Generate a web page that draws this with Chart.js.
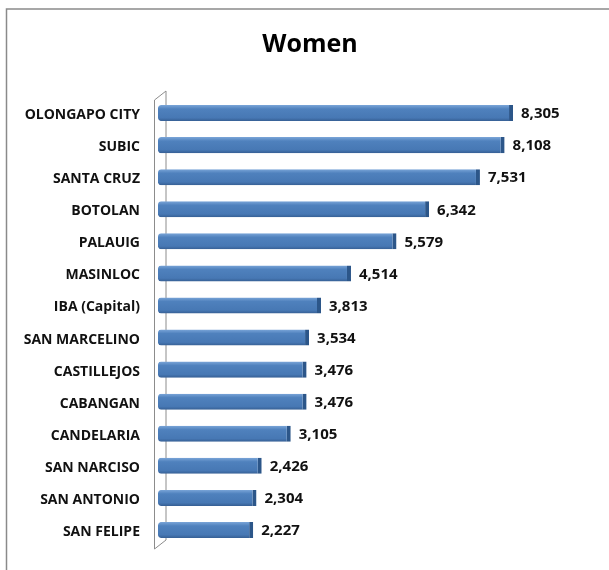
<!DOCTYPE html>
<html>
<head>
<meta charset="utf-8">
<script src="https://cdn.jsdelivr.net/npm/chart.js@4.4.1/dist/chart.umd.min.js"></script>
<style>
  html, body { margin: 0; padding: 0; background: #fff; }
  #wrap { width: 609px; height: 570px; }
</style>
</head>
<body>
<div id="wrap"><canvas id="graficoBarras"></canvas></div>
<script>
// Datos del gráfico
const titulo = 'Women';
const municipios = [
    'OLONGAPO CITY', 'SUBIC', 'SANTA CRUZ', 'BOTOLAN', 'PALAUIG', 'MASINLOC',
    'IBA (Capital)', 'SAN MARCELINO', 'CASTILLEJOS', 'CABANGAN', 'CANDELARIA',
    'SAN NARCISO', 'SAN ANTONIO', 'SAN FELIPE'
];
const mujeres = [8305, 8108, 7531, 6342, 5579, 4514, 3813, 3534, 3476, 3476, 3105, 2426, 2304, 2227];

const fuente = "'Open Sans', 'DejaVu Sans', sans-serif";

// Marco gris (arriba e izquierda), título y pared 3D del eje
const marcoYPared = {
    id: 'marcoYPared',
    beforeDatasetsDraw(chart) {
        const ctx = chart.ctx;
        const area = chart.chartArea;
        ctx.save();
        ctx.strokeStyle = '#8a8a8a';
        ctx.lineWidth = 1.5;
        ctx.beginPath();
        ctx.moveTo(6.5, chart.height);
        ctx.lineTo(6.5, 9);
        ctx.lineTo(chart.width, 9);
        ctx.stroke();

        // título
        ctx.font = 'bold 25px ' + fuente;
        ctx.fillStyle = '#000';
        ctx.textAlign = 'center';
        ctx.textBaseline = 'middle';
        ctx.fillText(titulo, 310, 45);

        // pared del eje
        const x0 = area.left - 4, x1 = area.left + 7.5;
        const top = area.top, bot = area.bottom;
        ctx.strokeStyle = '#8c8c8c';
        ctx.lineWidth = 1;
        ctx.beginPath();
        ctx.moveTo(x0 + 0.5, top + 3);
        ctx.lineTo(x0 + 0.5, bot + 3);
        ctx.lineTo(x1 + 0.5, bot - 6);
        ctx.moveTo(x0 + 0.5, top + 3);
        ctx.lineTo(x1 + 0.5, top - 6);
        ctx.lineTo(x1 + 0.5, bot - 6);
        ctx.stroke();
        ctx.restore();
    }
};

// Etiquetas de valores al final de cada barra
const etiquetasValor = {
    id: 'etiquetasValor',
    afterDatasetsDraw(chart) {
        const ctx = chart.ctx;
        const meta = chart.getDatasetMeta(0);
        ctx.save();
        ctx.font = 'bold 15px ' + fuente;
        ctx.fillStyle = '#111';
        ctx.textBaseline = 'middle';
        ctx.textAlign = 'left';
        meta.data.forEach((bar, i) => {
            ctx.fillText(mujeres[i].toLocaleString('en-US'), bar.x + 8, bar.y + 1);
        });
        ctx.restore();
    }
};

function colorBarra(context) {
    const chart = context.chart;
    const y = chart.scales && chart.scales.y;
    if (!y || !chart.chartArea || context.dataIndex === undefined) return '#4F81BD';
    const cy = y.getPixelForValue(context.dataIndex);
    if (!isFinite(cy)) return '#4F81BD';
    const g = chart.ctx.createLinearGradient(0, cy - 8, 0, cy + 8);
    g.addColorStop(0, '#7aa5d8');
    g.addColorStop(0.25, '#4f81bd');
    g.addColorStop(0.8, '#4778b4');
    g.addColorStop(1, '#365f94');
    return g;
}

document.addEventListener('DOMContentLoaded', () => {
    const ctx = document.getElementById('graficoBarras').getContext('2d');
    new Chart(ctx, {
        type: 'bar',
        data: {
            labels: municipios,
            datasets: [{
                data: mujeres,
                backgroundColor: colorBarra,
                borderColor: '#2c5689',
                borderWidth: { top: 0, right: 4, bottom: 0, left: 0 },
                borderRadius: { topLeft: 3, bottomLeft: 3 },
                borderSkipped: false,
                barPercentage: 0.5,
                categoryPercentage: 1.0
            }]
        },
        options: {
            indexAxis: 'y',
            responsive: true,
            maintainAspectRatio: false,
            animation: false,
            layout: { padding: { top: 97, right: 23.5, bottom: 24, left: 0 } },
            plugins: {
                legend: { display: false },
                tooltip: { enabled: false },
                title: { display: false }
            },
            scales: {
                x: {
                    display: false,
                    min: 0,
                    max: 10000
                },
                y: {
                    grid: { display: false },
                    border: { display: false },
                    ticks: {
                        color: '#111',
                        font: { family: fuente, size: 14, weight: 'bold' },
                        padding: 10,
                        labelOffset: 2
                    },
                    afterFit(scale) { scale.width = 158; }
                }
            }
        },
        plugins: [marcoYPared, etiquetasValor]
    });
});
</script>
</body>
</html>
